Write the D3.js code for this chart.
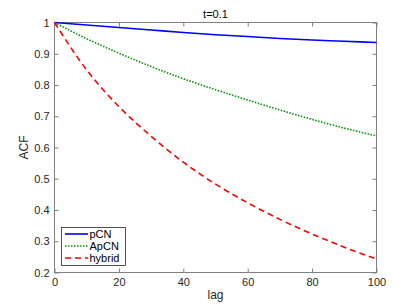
<!DOCTYPE html>
<html>
<head>
<meta charset="utf-8">
<script src="https://cdn.jsdelivr.net/npm/d3@7"></script>
<style>
    body { margin: 0; background: #fff; }
    svg { display: block; font-family: "Liberation Sans", Arial, sans-serif; }
    .tick text { fill: #262626; font-size: 11px; }
</style>
</head>
<body>
<svg id="chart"></svg>
<script>
// values
const lags = [0, 10, 20, 30, 40, 50, 60, 70, 80, 90, 100];
const pcnAcf = [1, 0.992, 0.984, 0.976, 0.968, 0.961, 0.955, 0.949, 0.944, 0.940, 0.936];
const apcnAcf = [1, 0.948, 0.902, 0.859, 0.82, 0.785, 0.752, 0.72, 0.69, 0.662, 0.637];
const hybridAcf = [1, 0.848, 0.731, 0.636, 0.553, 0.483, 0.423, 0.37, 0.323, 0.281, 0.243];
const xTicks = [0, 20, 40, 60, 80, 100];
const yTicks = [0.2, 0.3, 0.4, 0.5, 0.6, 0.7, 0.8, 0.9, 1];

const series = [
    { name: 'pCN', values: pcnAcf, color: '#0000ff', dash: null, width: 1.6 },
    { name: 'ApCN', values: apcnAcf, color: '#009900', dash: '1.5,1.5', width: 1.6 },
    { name: 'hybrid', values: hybridAcf, color: '#ff0000', dash: '6,4', width: 1.6 }
];

const width = 415;
const height = 306;
const plot = { left: 54.5, right: 376.5, top: 22.5, bottom: 272.5 };

const svg = d3.select('#chart')
    .attr('width', width)
    .attr('height', height);

const x = d3.scaleLinear().domain([0, 100]).range([plot.left, plot.right]);
const y = d3.scaleLinear().domain([0.2, 1]).range([plot.bottom, plot.top]);

const axisColor = '#808080';

// axes on all four sides, ticks pointing inward
function styleAxis(sel, showLabels) {
    sel.select('.domain').remove();
    sel.selectAll('.tick line').attr('stroke', axisColor);
    if (!showLabels) sel.selectAll('.tick text').remove();
}

svg.append('g')
    .attr('transform', `translate(0,${plot.bottom})`)
    .call(d3.axisBottom(x).tickValues(xTicks).tickSizeInner(-4).tickPadding(6).tickSizeOuter(0))
    .call(g => styleAxis(g, true));

svg.append('g')
    .attr('transform', `translate(0,${plot.top})`)
    .call(d3.axisTop(x).tickValues(xTicks).tickSizeInner(-4).tickSizeOuter(0))
    .call(g => styleAxis(g, false));

svg.append('g')
    .attr('transform', `translate(${plot.left},0)`)
    .call(d3.axisLeft(y).tickValues(yTicks).tickFormat(d3.format('~g')).tickSizeInner(-4).tickPadding(5).tickSizeOuter(0))
    .call(g => styleAxis(g, true));

svg.append('g')
    .attr('transform', `translate(${plot.right},0)`)
    .call(d3.axisRight(y).tickValues(yTicks).tickSizeInner(-4).tickSizeOuter(0))
    .call(g => styleAxis(g, false));

svg.selectAll('.tick text').attr('font-family', null).attr('font-size', null);

svg.append('rect')
    .attr('x', plot.left)
    .attr('y', plot.top)
    .attr('width', plot.right - plot.left)
    .attr('height', plot.bottom - plot.top)
    .attr('fill', 'none')
    .attr('stroke', axisColor)
    .attr('stroke-width', 1);

const line = d3.line()
    .x((d, i) => x(lags[i]))
    .y(d => y(d))
    .curve(d3.curveMonotoneX);

svg.append('g')
    .selectAll('path')
    .data(series)
    .enter().append('path')
    .attr('d', d => line(d.values))
    .attr('fill', 'none')
    .attr('stroke', d => d.color)
    .attr('stroke-width', d => d.width)
    .attr('stroke-dasharray', d => d.dash);

// labels
svg.append('text')
    .attr('x', (plot.left + plot.right) / 2)
    .attr('y', 18)
    .attr('text-anchor', 'middle')
    .attr('font-size', 11)
    .attr('fill', '#000')
    .text('t=0.1');

svg.append('text')
    .attr('x', (plot.left + plot.right) / 2)
    .attr('y', 299)
    .attr('text-anchor', 'middle')
    .attr('font-size', 12)
    .attr('fill', '#262626')
    .text('lag');

svg.append('text')
    .attr('transform', `translate(28,${(plot.top + plot.bottom) / 2}) rotate(-90)`)
    .attr('text-anchor', 'middle')
    .attr('font-size', 12)
    .attr('fill', '#262626')
    .text('ACF');

// legend
const legend = svg.append('g');
legend.append('rect')
    .attr('x', 61.5)
    .attr('y', 227.5)
    .attr('width', 64)
    .attr('height', 38)
    .attr('fill', '#fff')
    .attr('stroke', '#262626')
    .attr('stroke-width', 0.8);

const entry = legend.selectAll('.entry')
    .data(series)
    .enter().append('g')
    .attr('class', 'entry')
    .attr('transform', (d, i) => `translate(0,${234 + i * 12})`);

entry.append('line')
    .attr('x1', 65)
    .attr('x2', 88)
    .attr('stroke', d => d.color)
    .attr('stroke-width', d => d.width)
    .attr('stroke-dasharray', d => d.dash);

entry.append('text')
    .attr('x', 89.5)
    .attr('dy', '0.35em')
    .attr('font-size', 11)
    .attr('fill', '#000')
    .text(d => d.name);
</script>
</body>
</html>
